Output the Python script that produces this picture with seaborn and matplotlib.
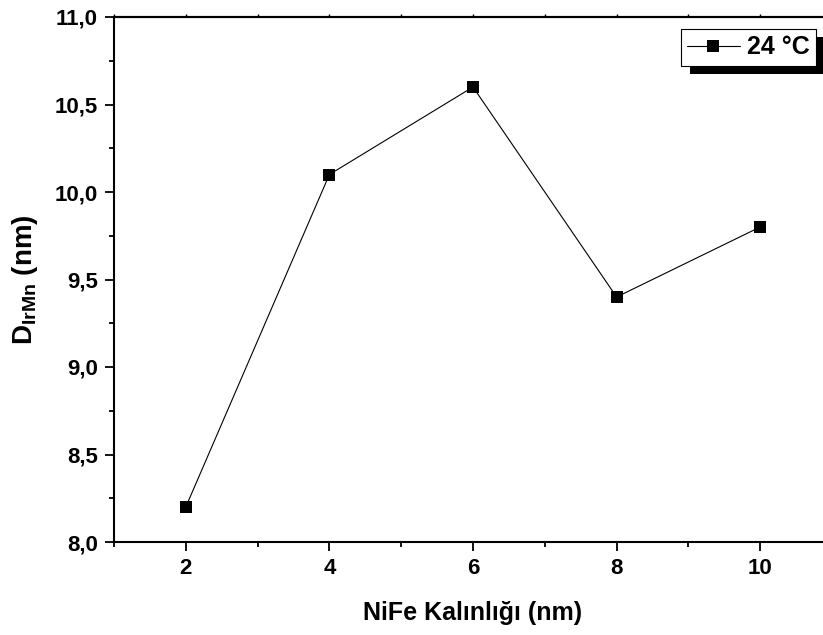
import matplotlib
matplotlib.use("Agg")
import matplotlib.pyplot as plt
import matplotlib.transforms as mtransforms
from matplotlib.patches import Rectangle
from matplotlib.ticker import MultipleLocator, FuncFormatter, NullFormatter
import seaborn as sns
import pandas as pd

# NiFe layer thickness (nm) and IrMn grain size D (nm)
thickness = [2, 4, 6, 8, 10]
d_irmn = [8.2, 10.1, 10.6, 9.4, 9.8]
series_label = "24 \u00b0C"

sns.set_theme(style="ticks")
plt.rcParams["font.family"] = ["Liberation Sans", "DejaVu Sans"]
plt.rcParams["font.weight"] = "bold"
plt.rcParams["text.color"] = "black"
plt.rcParams["axes.labelcolor"] = "black"
plt.rcParams["xtick.color"] = "black"
plt.rcParams["ytick.color"] = "black"
plt.rcParams["mathtext.fontset"] = "custom"
plt.rcParams["mathtext.rm"] = "Liberation Sans:bold"
plt.rcParams["mathtext.bf"] = "Liberation Sans:bold"

W, H = 823, 635
fig = plt.figure(figsize=(W / 100, H / 100), dpi=100)
ax = fig.add_axes([114 / W, (H - 542) / H, (832 - 114) / W, (542 - 17) / H])

df = pd.DataFrame({"t": thickness, "d": d_irmn})
sns.lineplot(data=df, x="t", y="d", ax=ax, color="black", lw=0.8,
             marker="s", markersize=8.6, markeredgewidth=0,
             markerfacecolor="black", label=series_label)

ax.set_xlim(1, 11)
ax.set_ylim(8.0, 11.0)
ax.xaxis.set_major_locator(MultipleLocator(2))
ax.xaxis.set_minor_locator(MultipleLocator(1))
ax.yaxis.set_major_locator(MultipleLocator(0.5))
ax.yaxis.set_minor_locator(MultipleLocator(0.25))
ax.yaxis.set_major_formatter(FuncFormatter(lambda v, p: f"{v:.1f}".replace(".", ",")))
ax.xaxis.set_major_formatter(FuncFormatter(lambda v, p: f"{v:.0f}"))

for s in ax.spines.values():
    s.set_linewidth(1.5)
    s.set_color("black")

ax.tick_params(axis="both", which="major", direction="out", length=6.5,
               width=1.3, labelsize=16, pad=5, colors="black")
ax.tick_params(axis="both", which="minor", direction="out", length=3.8,
               width=1.3, colors="black")
for lab in ax.get_xticklabels() + ax.get_yticklabels():
    lab.set_fontweight("bold")
    lab.set_color("black")

# short unlabeled ticks along the top edge
top = ax.secondary_xaxis("top")
top.xaxis.set_major_locator(MultipleLocator(1))
top.xaxis.set_major_formatter(NullFormatter())
top.tick_params(axis="x", which="both", direction="out", length=2.5,
                width=1.0, colors="black")
top.spines["top"].set_linewidth(1.5)

ax.set_xlabel("NiFe Kalınlığı (nm)", fontsize=18, fontweight="bold",
              labelpad=16, color="black")
ax.set_ylabel(r"D$_{\mathbf{IrMn}}$ (nm)", fontsize=20, fontweight="bold",
              labelpad=11, color="black")

leg = ax.legend(loc="upper right", bbox_to_anchor=(816 / W, 1 - 29 / H),
                bbox_transform=fig.transFigure, borderaxespad=0,
                frameon=True, fancybox=False, framealpha=1, edgecolor="black",
                prop={"size": 18, "weight": "bold"}, handlelength=2.1,
                handletextpad=0.3, borderpad=0.25)
leg.get_frame().set_linewidth(0.8)
for t in leg.get_texts():
    t.set_color("black")

# solid black drop shadow behind the legend box
fig.canvas.draw()
bb = leg.get_window_extent()
shadow = Rectangle((bb.x0 + 9, bb.y0 - 8), bb.width, bb.height,
                   transform=mtransforms.IdentityTransform(),
                   facecolor="black", edgecolor="none",
                   zorder=leg.get_zorder() - 0.1, clip_on=False)
ax.add_artist(shadow)

fig.savefig("out.png", dpi=100)
